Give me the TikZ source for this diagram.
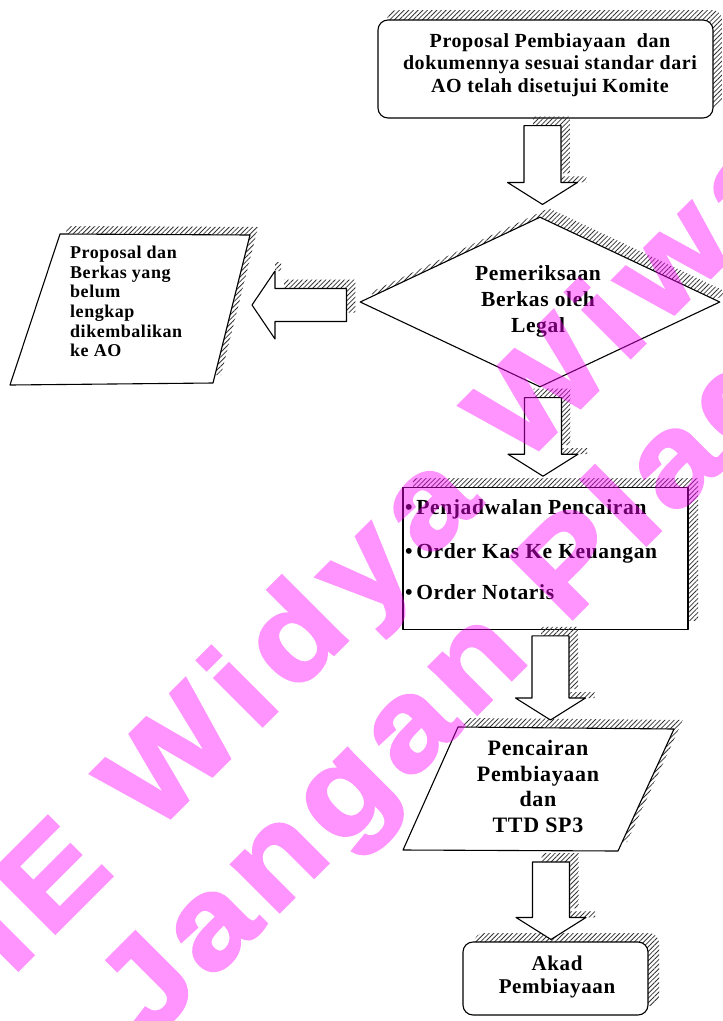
\documentclass[tikz,border=0pt]{standalone}
\usepackage{fontspec}
\setmainfont{Liberation Serif}[LetterSpace=3]
\newfontfamily\wmfont{Liberation Sans}[FakeStretch=1.12,FakeBold=2.5,LetterSpace=7]
\newfontfamily\wmfontA{Liberation Sans}[FakeStretch=1.12,FakeBold=2.5,LetterSpace=10]
\usetikzlibrary{patterns,patterns.meta,calc,shapes.geometric}
\definecolor{wmc}{RGB}{255,0,255}
\tikzset{
  hatchp/.style={pattern={Lines[angle=45,distance=3.3pt,line width=0.8pt]}, pattern color=black!80},
  sh/.style 2 args={preaction={hatchp, transform canvas={shift={(#1pt,#2pt)}}}},
  blk/.style={draw=black, fill=white, line width=1.1pt, line join=round},
  lbl/.style={align=center, inner sep=0pt},
  wm/.style={text=wmc, anchor=base west, inner sep=0pt, rotate=45}
}
% vertical block arrow: #1 start (top of shaft), #2 tip
\newcommand\vblock[2]{%
  \fill[hatchp] let \p1=(#1), \p2=(#2) in
    (\x1-18.5pt+9pt,\y1+9pt) rectangle (\x1+18.5pt+9pt,\y2+22pt+9pt)
    (\x1+18.5pt,\y2+22pt) rectangle (\x1+35pt+9pt,\y2+22pt+6pt);
  \draw[blk] let \p1=(#1), \p2=(#2) in
    (\x1-18.5pt,\y1) -- (\x1+18.5pt,\y1) -- (\x1+18.5pt,\y2+22pt) -- (\x1+35pt,\y2+22pt)
    -- (\x1,\y2) -- (\x1-35pt,\y2+22pt) -- (\x1-18.5pt,\y2+22pt) -- cycle;}
% horizontal block arrow pointing left: #1 start (right end of shaft), #2 tip
\newcommand\hblock[2]{%
  \fill[hatchp] let \p1=(#1), \p2=(#2) in
    (\x2+23pt+9pt,\y1-16.5pt+9pt) rectangle (\x1+9pt,\y1+16.5pt+9pt)
    (\x2+23pt,\y1+34pt) rectangle (\x2+23pt+6pt,\y1+34pt+9pt);
  \draw[blk] let \p1=(#1), \p2=(#2) in
    (\x1,\y1+16.5pt) -- (\x2+23pt,\y1+16.5pt) -- (\x2+23pt,\y1+34pt) -- (\x2,\y1)
    -- (\x2+23pt,\y1-34pt) -- (\x2+23pt,\y1-16.5pt) -- (\x1,\y1-16.5pt) -- cycle;}

\begin{document}
\begin{tikzpicture}[x=1pt,y=-1pt]
\useasboundingbox (0,0) rectangle (723,1021);
\fill[white] (0,0) rectangle (723,1021);

% top box
\node[blk, sh={9}{10}, rounded corners=10pt, minimum width=335pt, minimum height=98pt, inner sep=0pt] (top) at (545.5,69) {};
\node[lbl, font=\bfseries\fontsize{20}{22.5}\selectfont] (toptxt) at (550,65)
  {Proposal Pembiayaan~ dan\\dokumennya sesuai standar dari\\AO telah disetujui Komite};

% diamond
\node[blk, sh={9}{9}, diamond, minimum width=360pt, minimum height=170pt, inner sep=0pt] (dia) at (540,302) {};
\node[lbl, font=\bfseries\fontsize{21.5}{26}\selectfont] (diatxt) at (538,301)
  {Pemeriksaan\\Berkas oleh\\Legal};

% left parallelogram
\coordinate (lp1) at (60,234);
\coordinate (lp2) at (250,235);
\coordinate (lp3) at (213,383);
\coordinate (lp4) at (10,385);
\draw[blk, sh={8}{8}] (lp1) -- (lp2) -- (lp3) -- (lp4) -- cycle;
\node[lbl, align=left, anchor=north west, font=\bfseries\fontsize{18}{19.6}\selectfont] (lptxt) at (70,246)
  {Proposal dan\\Berkas yang\\belum\\lengkap\\dikembalikan\\ke AO};

% list box
\node[blk, sh={10}{9}, minimum width=285pt, minimum height=141.5pt, inner sep=0pt] (list) at (545.5,558.5) {};
\node[lbl, anchor=base west, font=\bfseries\fontsize{21.5}{24}\selectfont] (l1) at (405,514.5) {•\,Penjadwalan Pencairan};
\node[lbl, anchor=base west, font=\bfseries\fontsize{21.5}{24}\selectfont] (l2) at (405,558.5) {•\,Order Kas Ke Keuangan};
\node[lbl, anchor=base west, font=\bfseries\fontsize{21.5}{24}\selectfont] (l3) at (405,599.5) {•\,Order Notaris};

% second parallelogram
\coordinate (pp1) at (458,727);
\coordinate (pp2) at (674,729);
\coordinate (pp3) at (618,851);
\coordinate (pp4) at (403,850);
\draw[blk, sh={9}{9}] (pp1) -- (pp2) -- (pp3) -- (pp4) -- cycle;
\node[lbl, font=\bfseries\fontsize{22}{25.7}\selectfont] (pptxt) at (538,786.5)
  {Pencairan\\Pembiayaan\\dan\\TTD SP3};

% akad box
\node[blk, sh={11}{9}, rounded corners=10pt, minimum width=185pt, minimum height=73pt, inner sep=0pt] (akad) at (555.5,978.5) {};
\node[lbl, font=\bfseries\fontsize{21}{23}\selectfont] (akadtxt) at (557,976.5) {Akad\\Pembiayaan};

% block arrows
\coordinate (a1s) at ($(top.south)+(-3,7)$);
\coordinate (a1e) at ($(dia.north)+(2.5,-12)$);
\vblock{a1s}{a1e}
\coordinate (a2s) at ($(dia.south)+(3,10)$);
\coordinate (a2e) at ($(list.north)+(-2.5,-11)$);
\vblock{a2s}{a2e}
\coordinate (a3s) at ($(list.south)+(5,6)$);
\coordinate (a3e) at ($(pp1)!0.5!(pp2)+(-15.5,-8)$);
\vblock{a3s}{a3e}
\coordinate (a4s) at ($(pp3)!0.5!(pp4)+(40.5,11.5)$);
\coordinate (a4e) at ($(akad.north)+(-4,-2)$);
\vblock{a4s}{a4e}
\coordinate (a5s) at ($(dia.west)+(-13,3)$);
\coordinate (a5e) at ($(lp2)!0.5!(lp3)+(20.5,-4)$);
\hblock{a5s}{a5e}

% watermark
\begin{scope}[transparency group, opacity=0.42]
\node[wm, font=\wmfontA\bfseries\fontsize{127}{127}\selectfont] (wm1) at (-135,1123) {STIE Widya Wiwaha};
\node[wm, font=\wmfont\bfseries\fontsize{127}{127}\selectfont] (wm2) at (148,1043) {Jangan Plagiat};
\end{scope}
\end{tikzpicture}
\end{document}
